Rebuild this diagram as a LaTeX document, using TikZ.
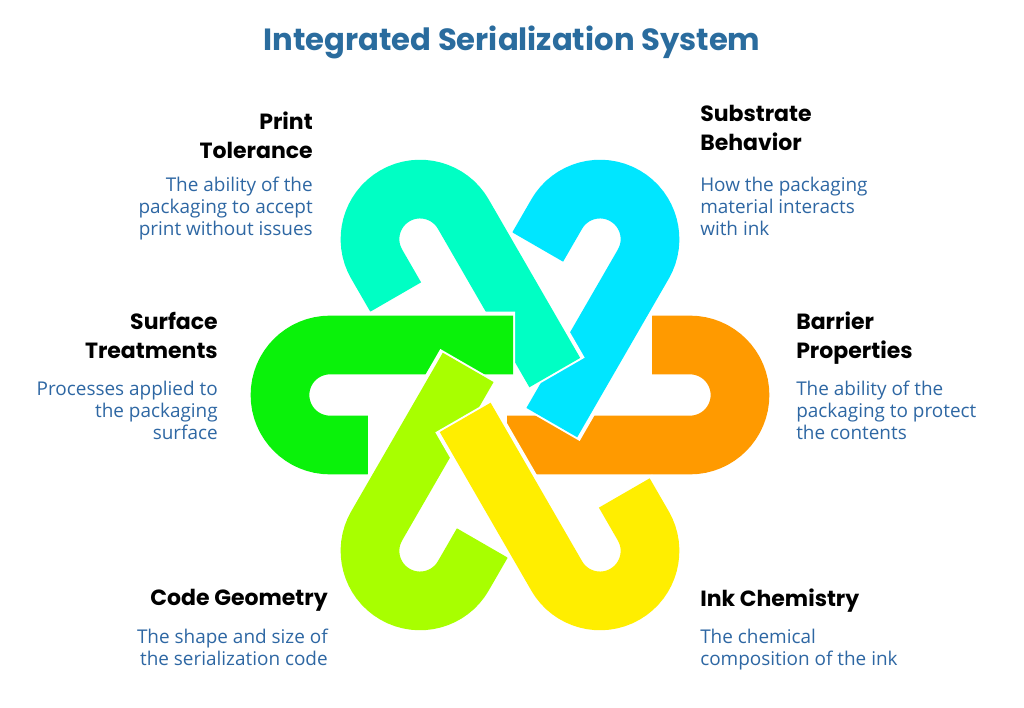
\documentclass[tikz,border=0pt]{standalone}
\usepackage{fontspec}
\setmainfont{Poppins}
\newfontfamily\bodyfont{Open Sans}
\usetikzlibrary{positioning}
\definecolor{titleblue}{HTML}{2A6C9E}
\definecolor{textblue}{HTML}{2E67A3}
\definecolor{cOrange}{HTML}{FF9A00}
\definecolor{cCyan}{HTML}{00E6FF}
\definecolor{cTeal}{HTML}{00FFC4}
\definecolor{cGreen}{HTML}{0AF20A}
\definecolor{cLime}{HTML}{A8FF00}
\definecolor{cYellow}{HTML}{FFEE00}
\tikzset{
  head/.style={font=\fontsize{16.5}{21.5}\selectfont\bfseries, text=black, inner sep=0pt},
  body/.style={font=\bodyfont\fontsize{14.2}{16.5}\selectfont, text=textblue, inner sep=0pt},
}
\newcommand{\hook}[2]{%
  \draw[white, line width=50pt, rotate=#1] (140,50) -- (180,50) arc (90:-90:50) -- (-5,-50);
  \draw[#2, line width=44pt, rotate=#1] (142,50) -- (180,50) arc (90:-90:50) -- (-3,-50);
}
\begin{document}
\begin{tikzpicture}[x=0.75pt,y=0.75pt]
\useasboundingbox (-510,-312) rectangle (514,395);
% hooks
\hook{0}{cOrange}
\hook{60}{cCyan}
\hook{120}{cTeal}
\hook{180}{cGreen}
\hook{240}{cLime}
\hook{300}{cYellow}
% title
\node[font=\fontsize{23}{27}\selectfont\bfseries, text=titleblue] (title) at (2,353) {Integrated Serialization System};
% left side
\node[head, align=right, anchor=north east] (printH) at (-197,283) {Print\\Tolerance};
\node[body, align=right, anchor=north east] (printB) at (-197,218) {The ability of the\\packaging to accept\\print without issues};
\node[head, align=right, anchor=north east] (surfH) at (-292,83) {Surface\\Treatments};
\node[body, align=right, anchor=north east] (surfB) at (-292,14) {Processes applied to\\the packaging\\surface};
\node[head, align=right, anchor=north east] (codeH) at (-182,-194) {Code Geometry};
\node[body, align=right, anchor=north east] (codeB) at (-182,-234) {The shape and size of\\the serialization code};
% right side
\node[head, align=left, anchor=north west] (subH) at (190,290) {Substrate\\Behavior};
\node[body, align=left, anchor=north west] (subB) at (190,218) {How the packaging\\material interacts\\with ink};
\node[head, align=left, anchor=north west] (barH) at (286,83) {Barrier\\Properties};
\node[body, align=left, anchor=north west] (barB) at (286,14) {The ability of the\\packaging to protect\\the contents};
\node[head, align=left, anchor=north west] (inkH) at (190,-194) {Ink Chemistry};
\node[body, align=left, anchor=north west] (inkB) at (190,-234) {The chemical\\composition of the ink};
\end{tikzpicture}
\end{document}
